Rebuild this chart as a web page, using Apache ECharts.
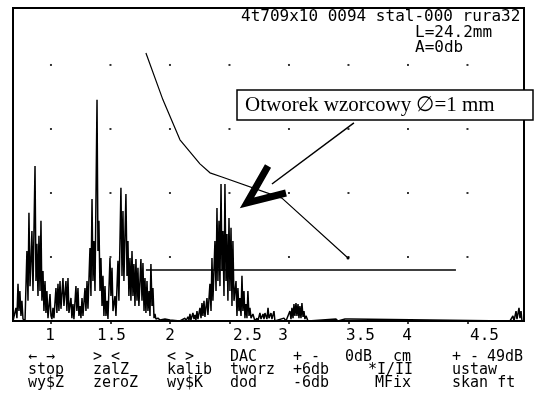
<!DOCTYPE html>
<html><head><meta charset="utf-8">
<script src="https://cdn.jsdelivr.net/npm/echarts@6/dist/echarts.min.js"></script>
<style>html,body{margin:0;padding:0;background:#fff}#c{width:535px;height:394px}</style>
</head><body><div id="c"></div>
<script>
// ---- data ----
const xTicks = [1, 1.5, 2, 2.5, 3, 3.5, 4, 4.5];
const xTickLabels = ['1', '1.5', '2', '2.5', '3', '3.5', '4', '4.5'];
const gridRows = [20, 40, 60, 80];
// A-scan echo: [distance, amplitude %]
const echo = [
[0.681,0],[0.689,0.6],[0.706,4.1],[0.714,0.9],[0.723,11.6],[0.731,3.1],[0.739,9.4],[0.748,1.6],[0.756,6.3],[0.765,0.6],[0.773,0.9],[0.782,0],
[0.798,21.9],[0.807,6.3],[0.815,33.8],[0.824,10.9],[0.832,18.8],[0.840,28.1],[0.849,9.4],[0.866,48.4],[0.874,12.5],[0.882,24.1],[0.891,7.8],[0.899,26.6],[0.908,9.4],[0.916,31.3],[0.924,6.3],[0.933,15.6],[0.941,3.1],[0.950,12.5],[0.958,2.5],[0.966,9.4],[0.975,0.9],[0.992,8.4],[1.000,1.6],[1.008,0.6],[1.017,4.1],[1.025,0.9],
[1.042,10.3],[1.050,2.5],[1.059,11.6],[1.067,3.1],[1.076,12.5],[1.084,3.8],[1.101,13.4],[1.109,4.7],[1.126,12.5],[1.134,3.1],[1.143,13.4],[1.151,2.5],[1.168,7.2],[1.176,0.9],[1.185,5.3],[1.193,0.6],[1.210,10.9],[1.218,3.1],[1.227,10.3],[1.235,1.6],[1.244,4.7],[1.252,0.9],[1.261,7.2],[1.269,1.6],[1.286,10.3],[1.294,3.1],[1.303,12.5],[1.311,3.8],
[1.328,22.8],[1.336,7.8],[1.345,38.1],[1.353,12.5],[1.361,25],[1.370,9.4],[1.387,69.1],[1.395,21.9],[1.403,31.3],[1.412,9.4],[1.420,19.7],[1.429,4.7],[1.437,14.1],[1.445,1.6],[1.454,10.9],[1.462,1.6],[1.471,6.3],[1.479,0.6],
[1.496,19.7],[1.504,7.8],[1.513,16.6],[1.521,3.1],[1.538,7.8],[1.546,1.6],[1.563,18.8],[1.571,6.3],[1.588,41.6],[1.597,14.1],[1.605,34.4],[1.613,12.5],[1.630,39.7],[1.639,14.1],[1.647,25],[1.655,7.8],[1.664,19.7],[1.672,6.3],[1.681,21.9],[1.689,7.8],[1.697,17.8],[1.706,4.7],[1.714,19.4],[1.723,6.3],[1.731,16.6],[1.739,4.7],[1.756,19.4],[1.765,6.3],[1.773,18.1],[1.782,3.1],[1.790,13.4],[1.798,2.5],[1.807,12.5],[1.815,3.1],[1.824,9.4],[1.832,1.6],[1.840,17.8],[1.849,4.7],[1.857,10.3],[1.866,0.9],[1.874,2.2],[1.882,0.6],[1.899,0.9],[1.916,0.3],[1.958,0.6],[2.000,0.3],[2.084,0],
[2.126,0.9],[2.134,0],[2.151,1.3],[2.160,0.3],[2.168,2.2],[2.176,0.3],[2.193,2.5],[2.202,0.6],[2.210,1.9],[2.218,0.3],[2.227,3.1],[2.235,0.6],[2.252,4.1],[2.261,0.9],[2.269,5.6],[2.277,1.6],[2.286,6.3],[2.294,1.3],[2.311,7.2],[2.319,1.9],[2.328,2.5],[2.336,11.6],[2.345,3.1],[2.353,19.7],[2.361,6.3],[2.378,25],[2.387,9.4],[2.395,35.3],[2.403,12.5],[2.412,31.3],[2.420,10.9],[2.429,42.8],[2.437,15.6],[2.445,28.1],[2.454,7.8],[2.462,42.8],[2.471,12.5],[2.479,27.2],[2.487,6.3],[2.496,32.2],[2.504,9.4],[2.513,29.1],[2.521,4.7],[2.529,25],[2.538,6.3],[2.555,12.5],[2.563,1.6],[2.571,10.3],[2.580,3.1],[2.588,7.2],[2.597,1.6],[2.605,14.1],[2.613,3.1],[2.622,9.4],[2.630,0.9],[2.639,5.3],[2.647,0.9],[2.655,9.4],[2.664,1.6],[2.672,4.1],[2.681,0.9],[2.697,2.2],[2.714,0],[2.731,0.9],[2.739,0],[2.756,2.5],[2.765,0.6],[2.782,2.2],[2.790,0.6],[2.798,2.5],[2.815,0.6],[2.824,4.1],[2.832,0.9],[2.849,2.5],[2.857,0.6],[2.874,3.1],[2.882,0],[2.958,0.9],[2.975,0],
[3.008,3.1],[3.017,0.6],[3.025,4.1],[3.034,0.9],[3.042,5.3],[3.050,1.6],[3.059,5.6],[3.067,1.6],[3.076,5.3],[3.084,0.9],[3.092,4.7],[3.101,0.9],[3.109,5.6],[3.118,1.3],[3.126,3.1],[3.134,0.6],[3.143,1.6],[3.160,0],[3.395,0.6],[3.412,0],[3.471,0.6],[3.487,0],[3.513,0.6],[3.529,0],
[4.857,0],[4.882,1.6],[4.891,0],[4.908,3.1],[4.916,0.6],[4.933,4.1],[4.941,0.9],[4.950,3.1],[4.958,0],[4.975,0]
];
// DAC curve
const dac = [[1.798,83.75],[1.941,69.1],[2.084,56.6],[2.252,49.1],[2.336,46.3],[2.437,45.0],[2.941,38.4],[3.496,19.7]];
// gate
const gate = [[1.798,15.9],[4.403,15.9]];
// annotation pointer (leader line and arrow head)
const leader = [[3.546,61.9],[2.857,42.8]];
const arrowHead = [[2.824,48.4],[2.647,36.9],[2.975,40.0]];
// texts
const headerLines = ['4t709x10 0094 stal-000 rura32', 'L=24.2mm', 'A=0db'];
const noteText = 'Otworek wzorcowy \u2205=1 mm';
const menuRow1 = ['\u2190 \u2192', '> <', '< >', 'DAC', '+ -', '0dB', 'cm', '+ -', '49dB'];
const menuRow2 = ['stop', 'zalZ', 'kalib', 'tworz', '+6db', '*I/II', 'ustaw'];
const menuRow3 = ['wy$Z', 'zeroZ', 'wy$K', 'dod', '-6db', 'MFix', 'skan ft'];

// ---- layout / styling ----
const MONO = '"DejaVu Sans Mono", monospace';
const labelShift = [-1, 1, 0, 18, -6, 12, -1, 17];
const rich = {};
labelShift.forEach((s, i) => {
  rich['l' + i] = {
    fontFamily: MONO, fontSize: 16, color: '#000',
    padding: s >= 0 ? [0, 0, 0, 2 * s] : [0, -2 * s, 0, 0]
  };
});
const dots = [];
xTicks.forEach(x => gridRows.forEach(y => dots.push([x, y])));

const dacData = dac.map((p, i) => i === dac.length - 1
  ? { value: p, symbol: 'circle', symbolSize: 3 } : { value: p });

const menuX1 = [28, 93, 167, 230, 293, 345, 393, 452, 487];
const menuX2 = [28, 93, 167, 230, 293, 368, 452];
const menuX3 = [28, 93, 167, 230, 293, 375, 452];
const graphics = [];
const txt = (x, y, t, font, extra) => Object.assign({
  type: 'text', x: x, y: y, z: 100,
  style: Object.assign({ text: t, font: font, fill: '#000', verticalAlign: 'middle' }, extra || {})
});
graphics.push(txt(241, 17, headerLines[0], '16px ' + MONO));
graphics.push(txt(415, 33, headerLines[1], '16px ' + MONO));
graphics.push(txt(415, 48, headerLines[2], '16px ' + MONO));
menuRow1.forEach((t, i) => graphics.push(txt(menuX1[i], 357, t, '15px ' + MONO)));
menuRow2.forEach((t, i) => graphics.push(txt(menuX2[i], 370, t, '15px ' + MONO)));
menuRow3.forEach((t, i) => graphics.push(txt(menuX3[i], 383, t, '15px ' + MONO)));
graphics.push({ type: 'rect', z: 100, shape: { x: 237, y: 90, width: 296, height: 30 },
  style: { fill: '#fff', stroke: '#000', lineWidth: 1.5 } });
graphics.push(txt(245, 105, noteText, '21px "Liberation Serif", "Times New Roman", serif', { }));
graphics[graphics.length - 1].z = 101;

const chart = echarts.init(document.getElementById('c'), null, { renderer: 'canvas' });
chart.setOption({
  animation: false,
  backgroundColor: '#fff',
  grid: { left: 13, top: 8, width: 511, height: 313, show: true, borderColor: '#000', borderWidth: 2, backgroundColor: '#fff' },
  xAxis: {
    type: 'value', min: 0.681, max: 4.975,
    axisLine: { show: true, lineStyle: { color: '#000', width: 2 } },
    splitLine: { show: false },
    axisTick: { show: true, customValues: xTicks, length: 3, lineStyle: { color: '#000', width: 1.5 } },
    axisLabel: {
      customValues: xTicks, margin: 7, fontFamily: MONO, fontSize: 16, color: '#000',
      formatter: v => { const i = xTicks.indexOf(v); return '{l' + i + '|' + xTickLabels[i] + '}'; },
      rich: rich
    }
  },
  yAxis: { type: 'value', min: 0, max: 97.8, show: false, splitLine: { show: false } },
  series: [
    { type: 'scatter', data: dots, symbol: 'rect', symbolSize: 2, itemStyle: { color: '#000' }, silent: true, z: 1 },
    { type: 'line', data: echo, symbol: 'none', lineStyle: { color: '#000', width: 1.5 }, silent: true, z: 2 },
    { type: 'line', data: dacData, symbol: 'none', lineStyle: { color: '#000', width: 1.2 }, itemStyle: { color: '#000' }, silent: true, z: 3 },
    { type: 'line', data: gate, symbol: 'none', lineStyle: { color: '#000', width: 1.5 }, silent: true, z: 3 },
    { type: 'line', data: leader, symbol: 'none', lineStyle: { color: '#000', width: 1.5 }, silent: true, z: 4 },
    { type: 'line', data: arrowHead, symbol: 'none', lineStyle: { color: '#000', width: 7, join: 'miter', miterLimit: 10 }, silent: true, z: 4 }
  ],
  graphic: graphics
});
</script></body></html>
